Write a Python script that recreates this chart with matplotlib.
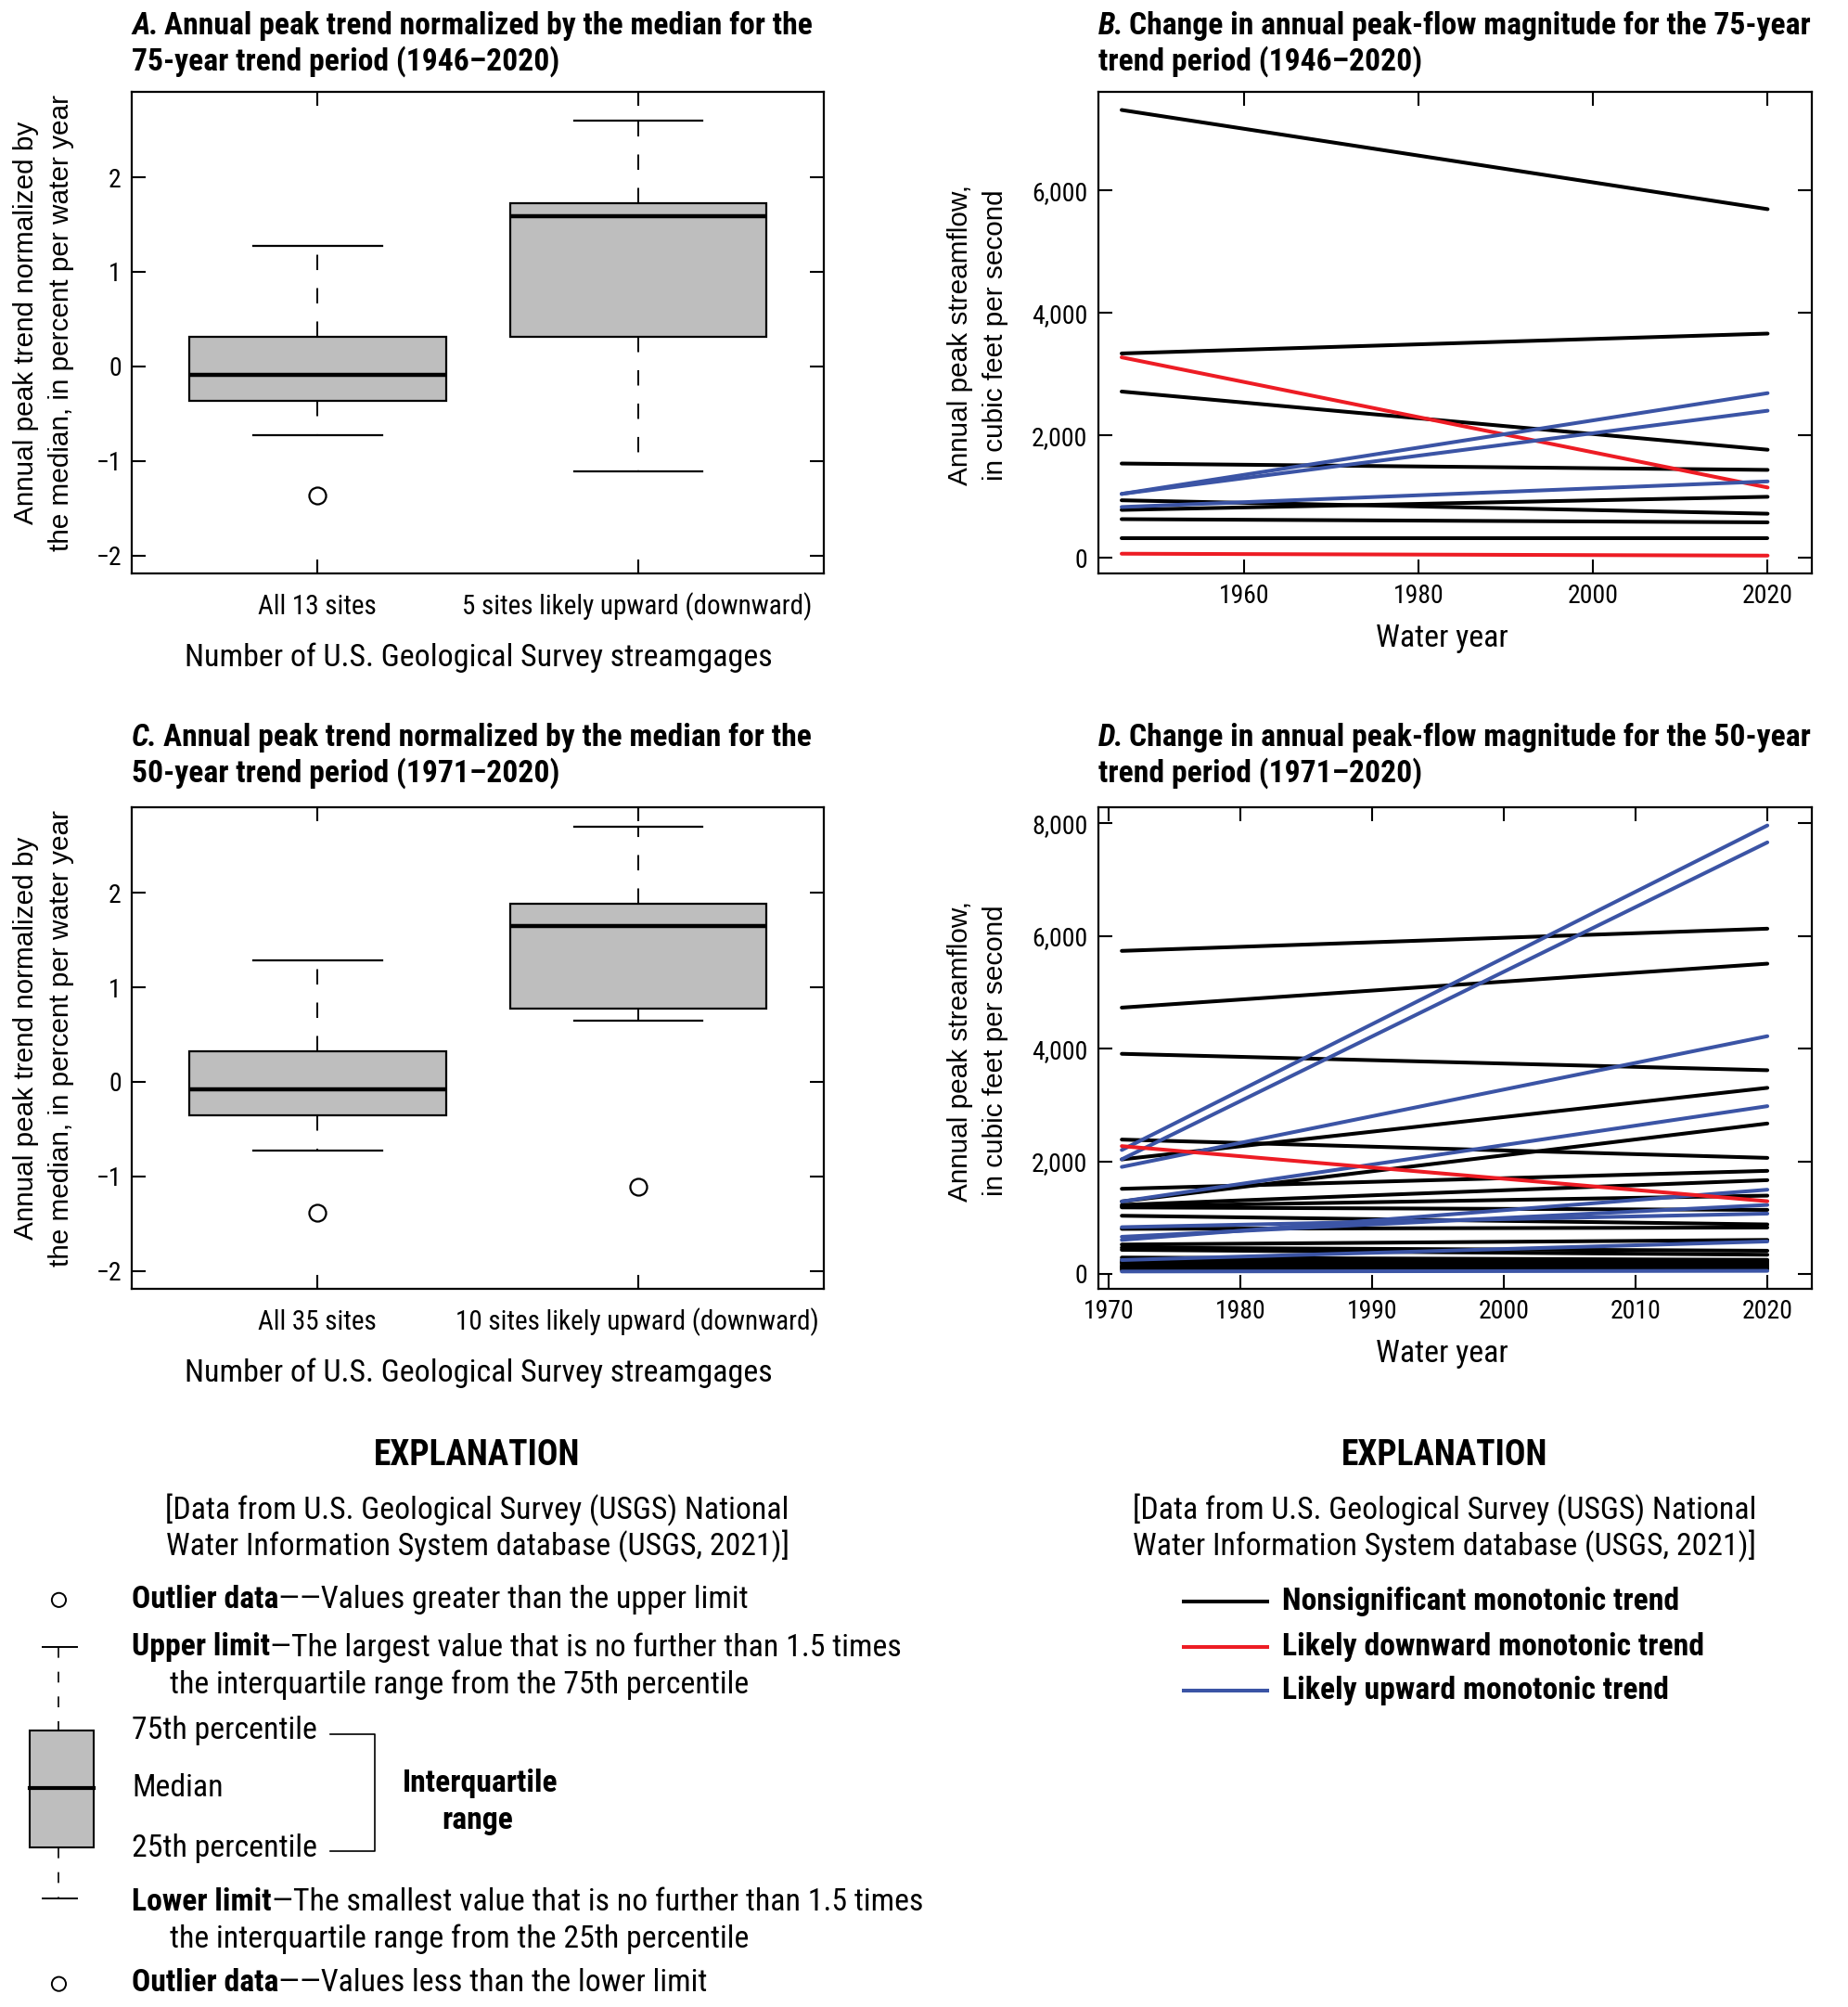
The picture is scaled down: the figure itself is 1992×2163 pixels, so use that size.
import matplotlib
matplotlib.use("Agg")
import matplotlib.pyplot as plt
from matplotlib import font_manager
from matplotlib.ticker import FuncFormatter
from matplotlib.patches import Rectangle, Circle

# ---------------- DATA ----------------
# Box plot statistics (percent per water year)
box_labels_75 = ["All 13 sites", "5 sites likely upward (downward)"]
box_med_75 = [-0.09, 1.59]
box_q1_75 = [-0.36, 0.31]
box_q3_75 = [0.31, 1.73]
box_lo_75 = [-0.73, -1.11]
box_hi_75 = [1.27, 2.60]
box_fliers_75 = [[-1.37], []]

box_labels_50 = ["All 35 sites", "10 sites likely upward (downward)"]
box_med_50 = [-0.08, 1.65]
box_q1_50 = [-0.35, 0.77]
box_q3_50 = [0.32, 1.88]
box_lo_50 = [-0.73, 0.65]
box_hi_50 = [1.29, 2.70]
box_fliers_50 = [[-1.38], [-1.11]]

# Trend lines: start/end annual peak streamflow (cfs)
years_75 = [1946, 2020]
black_start_75 = [7311, 3337, 2715, 1540, 940, 783, 632, 329]
black_end_75 = [5692, 3661, 1765, 1436, 721, 997, 580, 329]
red_start_75 = [3274, 68]
red_end_75 = [1149, 37]
blue_start_75 = [1044, 1044, 830]
blue_end_75 = [2689, 2402, 1248]

years_50 = [1971, 2020]
black_start_50 = [5734, 4727, 3907, 2385, 2033, 1511, 1286, 1225, 1200, 1181,
                  1033, 800, 522, 467, 428, 291, 250, 220, 190, 165,
                  140, 126, 110, 93, 71]
black_end_50 = [6128, 5507, 3616, 2060, 3303, 1830, 2670, 1665, 1390, 1137,
                879, 824, 604, 412, 341, 250, 230, 210, 190, 170,
                150, 135, 120, 105, 90]
red_start_50 = [2269]
red_end_50 = [1291]
blue_start_50 = [2200, 2035, 1900, 1286, 830, 659, 604, 247, 44]
blue_end_50 = [7960, 7660, 4220, 2978, 1071, 1225, 1495, 577, 55]

# ---------------- STYLE ----------------
available = {f.name for f in font_manager.fontManager.ttflist}
def pick(cands):
    for c in cands:
        if c in available:
            return c
    return "DejaVu Sans"

NARROW = pick(["Liberation Sans Narrow", "Roboto Condensed", "Open Sans Condensed",
               "DejaVu Sans Condensed", "Liberation Sans"])
ARIAL = pick(["Liberation Sans", "Arimo", "DejaVu Sans"])

plt.rcParams["font.family"] = [NARROW, "DejaVu Sans"]
BLACK = "#000000"
RED = "#ED1C24"
BLUE = "#3B54A5"
GRAY = "#BEBEBE"

W, H = 1444.0, 1568.0  # layout reference pixels
fig = plt.figure(figsize=(19.92, 21.63), dpi=100)

def rect(l, r, t, b):
    return [l / W, 1 - b / H, (r - l) / W, (b - t) / H]

def ftext(x, y, s, **kw):
    kw.setdefault("va", "center")
    return fig.text(x / W, 1 - y / H, s, **kw)

TICK_FS = 20
LW_SPINE = 1.6
YLAB_FS = 21.4
CAT_FS = 21
AXLAB_FS = 24.5
TFS = 24.2
LFS = 24.3

def style_axes(ax):
    for sp in ax.spines.values():
        sp.set_linewidth(LW_SPINE)
    ax.tick_params(direction="in", length=11, width=1.5, top=True, right=True,
                   labelsize=TICK_FS, pad=8)

# ---------------- BOX PANELS ----------------
def box_panel(rc, labels, med, q1, q3, lo, hi, fl):
    ax = fig.add_axes(rc)
    stats = []
    for i in range(len(labels)):
        stats.append(dict(med=med[i], q1=q1[i], q3=q3[i], whislo=lo[i],
                          whishi=hi[i], fliers=fl[i], label=""))
    ax.bxp(stats, positions=[1, 2], widths=0.8, patch_artist=True,
           capwidths=0.4,
           boxprops=dict(facecolor=GRAY, edgecolor=BLACK, linewidth=1.6),
           medianprops=dict(color=BLACK, linewidth=3.2),
           whiskerprops=dict(color=BLACK, linewidth=1.4, linestyle=(0, (8.5, 10))),
           capprops=dict(color=BLACK, linewidth=1.6),
           flierprops=dict(marker="o", markersize=13, markerfacecolor="white",
                           markeredgecolor=BLACK, markeredgewidth=1.6))
    ax.set_xlim(0.42, 2.58)
    ax.set_ylim(-2.19, 2.9)
    ax.set_yticks([-2, -1, 0, 1, 2])
    ax.set_yticklabels(["\u22122", "\u22121", "0", "1", "2"])
    ax.set_xticks([1, 2])
    ax.set_xticklabels([])
    style_axes(ax)
    return ax

box_panel(rect(103, 644, 72, 448), box_labels_75, box_med_75, box_q1_75, box_q3_75,
          box_lo_75, box_hi_75, box_fliers_75)
box_panel(rect(103, 644, 631, 1007), box_labels_50, box_med_50, box_q1_50, box_q3_50,
          box_lo_50, box_hi_50, box_fliers_50)

for (yoff, labels) in [(0, box_labels_75), (559, box_labels_50)]:
    ftext(248, 474 + yoff, labels[0], ha="center", fontsize=CAT_FS)
    ftext(498, 474 + yoff, labels[1], ha="center", fontsize=CAT_FS)
    ftext(374, 514 + yoff, "Number of U.S. Geological Survey streamgages",
          ha="center", fontsize=AXLAB_FS)
    ftext(20, 252 + yoff, "Annual peak trend normalized by", rotation=90,
          ha="center", fontsize=YLAB_FS, family=ARIAL)
    ftext(48, 252 + yoff, "the median, in percent per water year", rotation=90,
          ha="center", fontsize=YLAB_FS, family=ARIAL)

# ---------------- LINE PANELS ----------------
comma = FuncFormatter(lambda v, p: f"{int(v):,}")

def line_panel(rc, years, groups, xlim, ylim, xticks, yticks):
    ax = fig.add_axes(rc)
    for starts, ends, col in groups:
        for s, e in zip(starts, ends):
            ax.plot(years, [s, e], color=col, linewidth=2.9, solid_capstyle="round")
    ax.set_xlim(*xlim)
    ax.set_ylim(*ylim)
    ax.set_xticks(xticks)
    ax.set_yticks(yticks)
    ax.yaxis.set_major_formatter(comma)
    style_axes(ax)
    return ax

line_panel(rect(858, 1416, 72, 448), years_75,
           [(black_start_75, black_end_75, BLACK),
            (red_start_75, red_end_75, RED),
            (blue_start_75, blue_end_75, BLUE)],
           (1943.3, 2025.1), (-254, 7602),
           [1960, 1980, 2000, 2020], [0, 2000, 4000, 6000])
line_panel(rect(858, 1416, 631, 1007), years_50,
           [(black_start_50, black_end_50, BLACK),
            (blue_start_50, blue_end_50, BLUE),
            (red_start_50, red_end_50, RED)],
           (1969.2, 2023.4), (-266, 8276),
           [1970, 1980, 1990, 2000, 2010, 2020], [0, 2000, 4000, 6000, 8000])

for yoff in [0, 559]:
    ftext(1127, 499 + yoff, "Water year", ha="center", fontsize=AXLAB_FS)
    ftext(750, 262 + yoff, "Annual peak streamflow,", rotation=90,
          ha="center", fontsize=YLAB_FS, family=ARIAL)
    ftext(778, 262 + yoff, "in cubic feet per second", rotation=90,
          ha="center", fontsize=YLAB_FS, family=ARIAL)

fig.canvas.draw()
renderer = fig.canvas.get_renderer()

def after(t):
    bb = t.get_window_extent(renderer=renderer)
    return bb.x1 / fig.bbox.width * W

# ---------------- TITLES ----------------
def title(x, y, letter, l1, l2):
    t = ftext(x, y, f"{letter}.", fontsize=TFS, fontweight="bold",
              fontstyle="italic", ha="left")
    ftext(after(t) + 4, y, l1, fontsize=TFS, fontweight="bold", ha="left")
    ftext(x, y + 28, l2, fontsize=TFS, fontweight="bold", ha="left")

title(103, 20, "A", "Annual peak trend normalized by the median for the",
      "75-year trend period (1946\u20132020)")
title(858, 20, "B", "Change in annual peak-flow magnitude for the 75-year",
      "trend period (1946\u20132020)")
title(103, 576, "C", "Annual peak trend normalized by the median for the",
      "50-year trend period (1971\u20132020)")
title(858, 576, "D", "Change in annual peak-flow magnitude for the 50-year",
      "trend period (1971\u20132020)")

# ---------------- EXPLANATIONS ----------------
for cx in [373, 1129]:
    ftext(cx, 1137, "EXPLANATION", ha="center", fontsize=27, fontweight="bold")
    ftext(cx, 1180, "[Data from U.S. Geological Survey (USGS) National",
          ha="center", fontsize=LFS)
    ftext(cx, 1208, "Water Information System database (USGS, 2021)]",
          ha="center", fontsize=LFS)

# overlay axes in layout pixel coordinates for legend glyphs
lx = fig.add_axes([0, 0, 1, 1], zorder=-1)
lx.set_xlim(0, W)
lx.set_ylim(H, 0)
lx.axis("off")

lx.add_patch(Circle((46, 1250), 5.5, facecolor="white", edgecolor=BLACK, lw=1.4))
lx.plot([33, 60], [1287, 1287], color=BLACK, lw=1.4)
lx.plot([46, 46], [1287, 1352], color=BLACK, lw=1.2, linestyle=(0, (7, 9)))
lx.add_patch(Rectangle((23, 1352), 50, 91, facecolor=GRAY, edgecolor=BLACK, lw=1.5))
lx.plot([23, 73], [1397, 1397], color=BLACK, lw=3)
lx.plot([46, 46], [1443, 1483], color=BLACK, lw=1.2, linestyle=(0, (7, 9)))
lx.plot([33, 60], [1483, 1483], color=BLACK, lw=1.4)
lx.add_patch(Circle((46, 1550), 5.5, facecolor="white", edgecolor=BLACK, lw=1.4))
lx.plot([258, 293, 293, 258], [1355, 1355, 1446, 1446], color=BLACK, lw=1.2)

def rich(x, y, bold, rest):
    t = ftext(x, y, bold, fontsize=LFS, fontweight="bold", ha="left")
    ftext(after(t), y, rest, fontsize=LFS, ha="left")

rich(103, 1250, "Outlier data", "\u2014\u2014Values greater than the upper limit")
rich(103, 1287, "Upper limit", "\u2014The largest value that is no further than 1.5 times")
ftext(133, 1316, "the interquartile range from the 75th percentile", fontsize=LFS)
ftext(103, 1352, "75th percentile", fontsize=LFS)
ftext(103, 1397, "Median", fontsize=LFS)
ftext(103, 1444, "25th percentile", fontsize=LFS)
ftext(375, 1393, "Interquartile", fontsize=LFS, fontweight="bold", ha="center")
ftext(373, 1422, "range", fontsize=LFS, fontweight="bold", ha="center")
rich(103, 1486, "Lower limit", "\u2014The smallest value that is no further than 1.5 times")
ftext(133, 1515, "the interquartile range from the 25th percentile", fontsize=LFS)
rich(103, 1549, "Outlier data", "\u2014\u2014Values less than the lower limit")

for y, col, lab in [(1251, BLACK, "Nonsignificant monotonic trend"),
                    (1287, RED, "Likely downward monotonic trend"),
                    (1321, BLUE, "Likely upward monotonic trend")]:
    lx.plot([925, 990], [y, y], color=col, lw=2.9)
    ftext(1002, y, lab, fontsize=LFS, fontweight="bold", ha="left")

fig.savefig("out.png", dpi=100)
